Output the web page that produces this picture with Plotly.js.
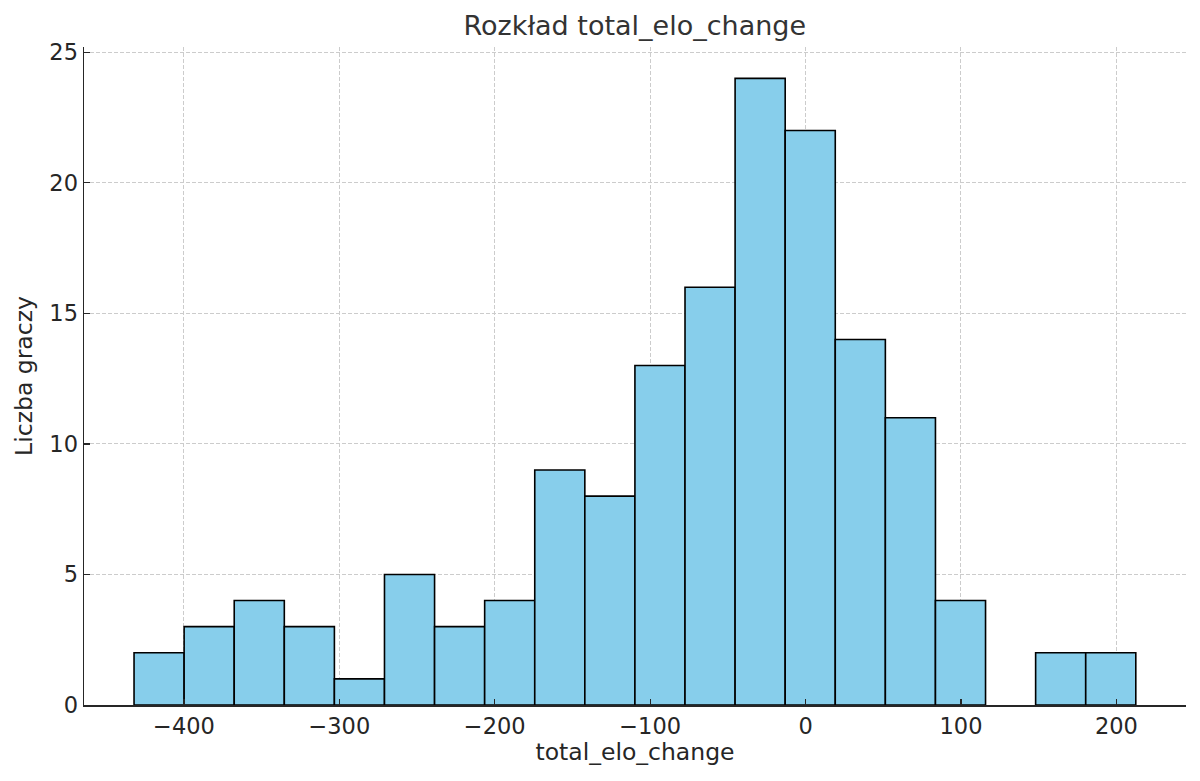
<!DOCTYPE html>
<html><head><meta charset="utf-8">
<script src="https://cdn.plot.ly/plotly-3.0.1.min.js"></script>
<style>body{margin:0;background:#fff}#chart{width:1200px;height:781px}</style>
</head><body><div id="chart"></div>
<script>
const binStart = -432.1;
const binWidth = 32.23;
const counts = [2, 3, 4, 3, 1, 5, 3, 4, 9, 8, 13, 16, 24, 22, 14, 11, 4, 0, 2, 2];
const xTicks = [-400, -300, -200, -100, 0, 100, 200];
const yTicks = [0, 5, 10, 15, 20, 25];

const centers = counts.map((_, i) => binStart + binWidth * (i + 0.5));

const trace = {
  type: 'bar',
  x: centers,
  y: counts,
  width: counts.map(() => binWidth),
  marker: {color: '#87CEEB', line: {color: '#000000', width: counts.map(c => c > 0 ? 1.6 : 0)}},
  hoverinfo: 'x+y'
};

const layout = {
  width: 1200, height: 781,
  margin: {l: 84, r: 14, t: 47, b: 76},
  paper_bgcolor: '#ffffff', plot_bgcolor: '#ffffff',
  showlegend: false,
  bargap: 0,
  title: {text: 'Rozkład total_elo_change', font: {family: 'DejaVu Sans', size: 27, color: '#333333'}, x: 0.529, xanchor: 'center', y: 0.967, yanchor: 'middle'},
  xaxis: {
    range: [-464.3, 244.8],
    tickvals: xTicks,
    ticks: 'inside', ticklen: 6, tickwidth: 1.3, tickcolor: '#262626',
    tickfont: {family: 'DejaVu Sans', size: 22.5, color: '#262626'},
    showline: true, linecolor: '#262626', linewidth: 1.5,
    showgrid: true, gridcolor: '#cccccc', gridwidth: 1, griddash: '4px,2px',
    zeroline: false,
    title: {text: 'total_elo_change', font: {family: 'DejaVu Sans', size: 23.5, color: '#262626'}, standoff: 6}
  },
  yaxis: {
    range: [0, 25.2],
    tickvals: yTicks,
    ticks: 'inside', ticklen: 6, tickwidth: 1.3, tickcolor: '#262626',
    tickfont: {family: 'DejaVu Sans', size: 22.5, color: '#262626'},
    showline: true, linecolor: '#262626', linewidth: 1.5,
    showgrid: true, gridcolor: '#cccccc', gridwidth: 1, griddash: '4px,2px',
    zeroline: false,
    title: {text: 'Liczba graczy', font: {family: 'DejaVu Sans', size: 23.5, color: '#262626'}, standoff: 10}
  }
};

Plotly.newPlot('chart', [trace], layout, {displayModeBar: false, staticPlot: true});
</script></body></html>
